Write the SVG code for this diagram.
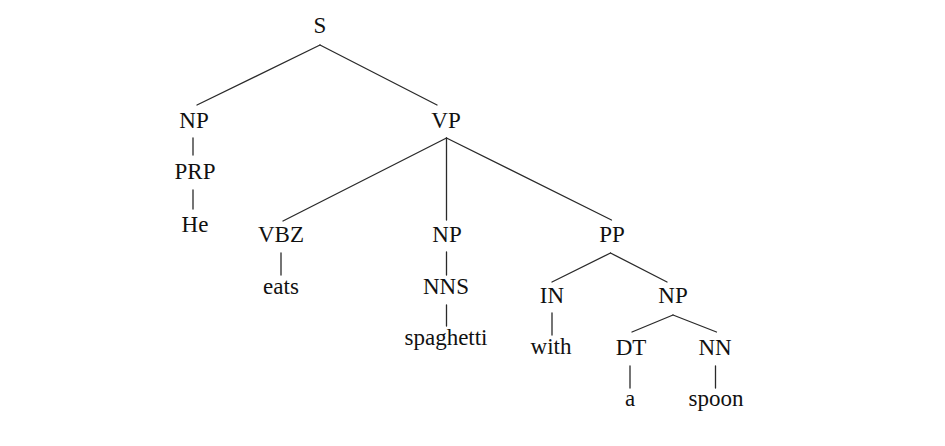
<svg xmlns="http://www.w3.org/2000/svg" width="945" height="446" viewBox="0 0 945 446">
<style>
text{font-family:'Liberation Serif','DejaVu Serif',serif;font-size:23px;fill:#111;text-anchor:middle}
.e line{stroke:#2a2a2a;stroke-width:1.3;stroke-linecap:round}
</style>
<rect width="945" height="446" fill="#fff"/>
<g class="e" id="edges">
<line x1="320" y1="45" x2="197" y2="105"/>
<line x1="320" y1="45" x2="437" y2="105"/>
<line x1="193" y1="138" x2="193" y2="155"/>
<line x1="193" y1="190" x2="193" y2="209"/>
<line x1="446.5" y1="138" x2="283" y2="221"/>
<line x1="446.5" y1="138" x2="446.5" y2="220"/>
<line x1="446.5" y1="138" x2="611.5" y2="220"/>
<line x1="281" y1="253" x2="281" y2="275"/>
<line x1="446.5" y1="252" x2="446.5" y2="275"/>
<line x1="446.5" y1="305" x2="446.5" y2="326"/>
<line x1="610.5" y1="253" x2="552" y2="282"/>
<line x1="610.5" y1="253" x2="667" y2="282"/>
<line x1="552" y1="313" x2="552" y2="335"/>
<line x1="673" y1="315" x2="632" y2="332"/>
<line x1="673" y1="315" x2="716.5" y2="332"/>
<line x1="630" y1="366" x2="630" y2="388"/>
<line x1="715.5" y1="366" x2="715.5" y2="388"/>
</g>
<g id="n-S"><text x="320" y="33" font-family="Liberation Serif, serif">S</text></g>
<g id="n-NP1"><text x="194" y="128">NP</text></g>
<g id="n-VP"><text x="446" y="128">VP</text></g>
<g id="n-PRP"><text x="195" y="179">PRP</text></g>
<g id="n-He"><text x="195" y="232">He</text></g>
<g id="n-VBZ"><text x="281" y="242">VBZ</text></g>
<g id="n-NP2"><text x="447" y="242">NP</text></g>
<g id="n-PP"><text x="612" y="242">PP</text></g>
<g id="n-eats"><text x="281" y="294">eats</text></g>
<g id="n-NNS"><text x="446" y="294">NNS</text></g>
<g id="n-spaghetti"><text x="446" y="345">spaghetti</text></g>
<g id="n-IN"><text x="552" y="303">IN</text></g>
<g id="n-NP3"><text x="673" y="303">NP</text></g>
<g id="n-with"><text x="551" y="354">with</text></g>
<g id="n-DT"><text x="631" y="355">DT</text></g>
<g id="n-NN"><text x="715" y="355">NN</text></g>
<g id="n-a"><text x="630" y="406">a</text></g>
<g id="n-spoon"><text x="716" y="406">spoon</text></g>
</svg>
